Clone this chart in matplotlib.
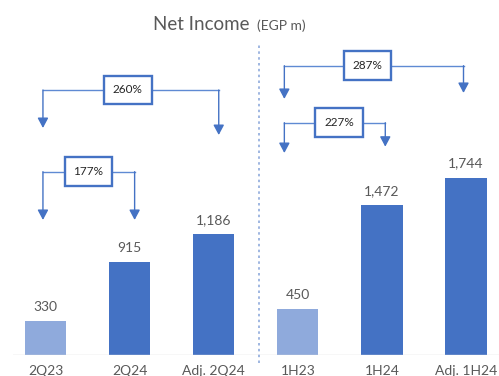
import matplotlib; matplotlib.use("Agg")
import matplotlib.pyplot as plt

# Net income, EGP m
periods = ["2Q23", "2Q24", "Adj. 2Q24", "1H23", "1H24", "Adj. 1H24"]
values = [330, 915, 1186, 450, 1472, 1744]
value_labels = ["330", "915", "1,186", "450", "1,472", "1,744"]
prior_year = [True, False, False, True, False, False]

# growth brackets: (label, from bar, to bar, bracket level, left tip, right tip)
growth = [
    ("260%", 0, 2, 2608, 2234, 2165),
    ("177%", 0, 1, 1804, 1329, 1329),
    ("287%", 3, 5, 2847, 2520, 2579),
    ("227%", 3, 4, 2286, 1988, 2050),
]

LIGHT = "#8faadc"
DARK = "#4472c4"
LINE = "#5f8ad3"
GREY = "#595959"
plt.rcParams["font.family"] = ["Lato", "DejaVu Sans"]

fig = plt.figure(figsize=(4.99, 3.76), dpi=100)
ax = fig.add_axes([13/499, 21/376, 486/499, 315/376])
ax.set_xlim(-0.386, 5.392)
ax.set_ylim(0, 3100)
for s in ax.spines.values():
    s.set_visible(False)
ax.set_yticks([])

xs = list(range(len(periods)))
cols = [LIGHT if p else DARK for p in prior_year]
ax.bar(xs, values, width=0.49, color=cols)
for x, v, t in zip(xs, values, value_labels):
    ax.annotate(t, (x, v), xytext=(0, 6), textcoords="offset points",
                ha="center", va="bottom", fontsize=10, color=GREY)

ax.set_xticks(xs)
ax.set_xticklabels(periods, fontsize=10, color=GREY)
ax.tick_params(axis="x", length=0, pad=7)
ax.axhline(0, color="#d9d9d9", lw=1)

# dotted divider between quarter and half-year views
ax.plot([2.54, 2.54], [-80, 3070], ls=(0, (1.5, 2)), color=LIGHT, lw=1.2, clip_on=False)

box_offsets = {"260%": 0.98, "177%": 0.51, "287%": 3.83, "227%": 3.49}
for lab, a, b, lvl, tip_a, tip_b in growth:
    xa = a - 0.03 if a == 0 else a - 0.16
    xb = b + (0.06 if b < 3 else (0.04 if b == 4 else -0.03))
    ax.plot([xa, xb], [lvl, lvl], color=LINE, lw=1)
    for xx, tip in ((xa, tip_a), (xb, tip_b)):
        ax.annotate("", xy=(xx, tip), xytext=(xx, lvl),
                    arrowprops=dict(arrowstyle="-|>,head_length=0.6,head_width=0.32",
                                    color=DARK, lw=1, shrinkA=0, shrinkB=0))
    ax.text(box_offsets[lab], lvl, lab, ha="center", va="center", fontsize=8.5,
            color="#262626",
            bbox=dict(boxstyle="square,pad=0.75", fc="white", ec=DARK, lw=1.7))

fig.text(152.7/499, 1 - 25/376, "Net Income", fontsize=13.5, color=GREY, va="center")
fig.text(257/499, 1 - 26/376, "(EGP m)", fontsize=10, color=GREY, va="center")

fig.savefig("out.png", dpi=100)
